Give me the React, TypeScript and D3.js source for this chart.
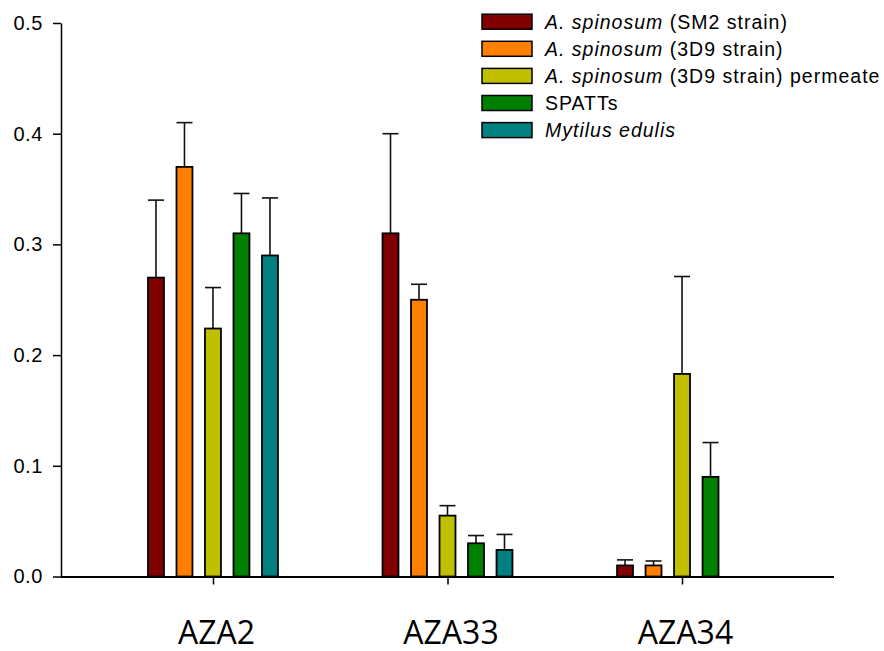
import React, { useEffect, useRef } from 'react'
import * as d3 from 'd3'

const categories = ['AZA2', 'AZA33', 'AZA34']

const seriesKeys = ['sm2', 'd3d9', 'permeate', 'spatts', 'mytilus']
const seriesColors = ['#800000', '#ff8000', '#c0c000', '#008000', '#008080']
// legend labels: [italic part, plain part]
const seriesLabels: [string, string][] = [
  ['A. spinosum', ' (SM2 strain)'],
  ['A. spinosum', ' (3D9 strain)'],
  ['A. spinosum', ' (3D9 strain) permeate'],
  ['', 'SPATTs'],
  ['Mytilus edulis', ''],
]

// mean values per category (AZA2, AZA33, AZA34)
const sm2 = [0.27, 0.31, 0.01]
const d3d9 = [0.37, 0.25, 0.01]
const permeate = [0.224, 0.055, 0.183]
const spatts = [0.31, 0.03, 0.09]
const mytilus = [0.29, 0.024, null]

// upper error (SD)
const sm2Err = [0.07, 0.09, 0.005]
const d3d9Err = [0.04, 0.014, 0.004]
const permeateErr = [0.037, 0.009, 0.088]
const spattsErr = [0.036, 0.007, 0.031]
const mytilusErr = [0.052, 0.014, null]

const yTicks = [0, 0.1, 0.2, 0.3, 0.4, 0.5]

const W = 884
const H = 651

export default function App() {
  const xAxisRef = useRef<SVGGElement>(null)
  const yAxisRef = useRef<SVGGElement>(null)

  const values = [sm2, d3d9, permeate, spatts, mytilus]
  const errors = [sm2Err, d3d9Err, permeateErr, spattsErr, mytilusErr]

  const y = d3.scaleLinear().domain([0, 0.5]).range([576.5, 23])
  const x0 = d3.scalePoint<string>().domain(categories).range([61, 834]).padding(0.648)
  const x1 = d3.scaleBand<string>().domain(seriesKeys).range([-71.25, 71.25])
    .paddingInner(0.44).paddingOuter(0.22)

  useEffect(() => {
    const gy = d3.select(yAxisRef.current)
    gy.call(
      d3.axisLeft(y).tickValues(yTicks).tickFormat(d3.format('.1f')).tickSize(8).tickSizeOuter(0).tickPadding(10)
    )
    gy.select('.domain').attr('stroke-width', 1.5)
    gy.selectAll('.tick line').attr('stroke-width', 1.5)
    gy.selectAll('.tick text')
      .attr('font-family', '"Liberation Sans", Arial, sans-serif')
      .attr('font-size', 20)
      .attr('letter-spacing', 0.6)
      .attr('fill', '#000')

    const gx = d3.select(xAxisRef.current)
    gx.call(d3.axisBottom(x0).tickSize(8).tickSizeOuter(0).tickPadding(37))
    gx.select('.domain').attr('d', `M61,0.5H834`).attr('stroke-width', 1.8)
    gx.selectAll('.tick line').attr('stroke-width', 1.5)
    gx.selectAll('.tick text')
      .attr('font-family', '"Open Sans", sans-serif')
      .attr('font-size', 32)
      .attr('dx', 3)
      .attr('fill', '#000')
  }, [])

  const bw = x1.bandwidth()
  const cap = 8

  return (
    <div style={{ position: 'absolute', left: 0, top: 0 }}>
      <svg width={W} height={H} style={{ display: 'block', background: '#fff' }}>
        <g ref={yAxisRef} transform="translate(61,0)" />

        {/* error bars, then bars */}
        {categories.map((c, ci) => (
          <g key={c}>
            {seriesKeys.map((s, si) => {
              const v = values[si][ci]
              const e = errors[si][ci]
              if (v == null) return null
              const cx = (x0(c) ?? 0) + (x1(s) ?? 0) + bw / 2
              return (
                <g key={s}>
                  {e != null && (
                    <g stroke="#111" strokeWidth={1.6}>
                      <line x1={cx} x2={cx} y1={y(v)} y2={y(v + e)} />
                      <line x1={cx - cap} x2={cx + cap} y1={y(v + e)} y2={y(v + e)} />
                    </g>
                  )}
                  <rect
                    x={cx - bw / 2}
                    y={y(v)}
                    width={bw}
                    height={y(0) - y(v)}
                    fill={seriesColors[si]}
                    stroke="#000"
                    strokeWidth={1.8}
                  />
                </g>
              )
            })}
          </g>
        ))}

        <g ref={xAxisRef} transform={`translate(0,${y(0)})`} />

        {/* legend */}
        <g fontFamily='"Liberation Sans", Arial, sans-serif' fontSize={19.5}>
          {seriesKeys.map((s, i) => {
            const cy = 21.7 + i * 27.1
            const [it, plain] = seriesLabels[i]
            return (
              <g key={s}>
                <rect x={482} y={cy - 7.5} width={50} height={15} fill={seriesColors[i]} stroke="#000" strokeWidth={1.5} />
                <text x={545} y={cy + 6.8} fill="#000" letterSpacing={1}>
                  {it && <tspan fontStyle="italic">{it}</tspan>}
                  {plain && <tspan>{plain}</tspan>}
                </text>
              </g>
            )
          })}
        </g>
      </svg>
    </div>
  )
}
